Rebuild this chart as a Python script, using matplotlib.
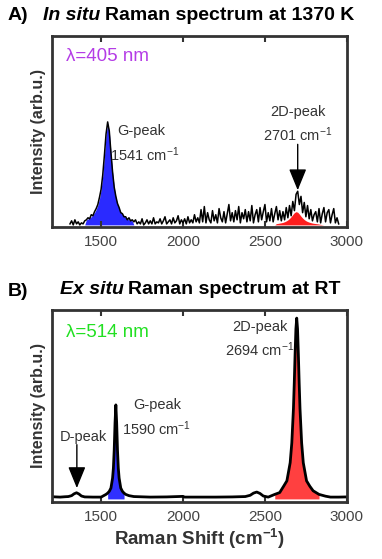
import matplotlib
matplotlib.use('Agg')
import matplotlib.pyplot as plt
import numpy as np

plt.rcParams['font.family'] = ['Liberation Sans', 'DejaVu Sans']
plt.rcParams['mathtext.fontset'] = 'custom'
plt.rcParams['mathtext.rm'] = 'Liberation Sans'
plt.rcParams['mathtext.it'] = 'Liberation Sans:italic'
plt.rcParams['mathtext.bf'] = 'Liberation Sans:bold'

# ---- panel A: in situ spectrum (405 nm), normalised to G peak
a_x = np.arange(1310, 2951, 10)
a_y = [0.01, 0.04, 0.00, 0.05, 0.01, 0.03, 0.00, 0.02, 0.01, 0.04,
       0.05, 0.07, 0.06, 0.10, 0.09, 0.13, 0.16, 0.20, 0.27, 0.35,
       0.49, 0.68, 0.89, 1.01, 0.92, 0.71, 0.52, 0.37, 0.28, 0.21,
       0.17, 0.12, 0.11, 0.08, 0.08, 0.05, 0.07, 0.04, 0.05, 0.03,
       0.05, 0.01, 0.03, 0.01, 0.06, 0.00, 0.02, 0.05, 0.01, 0.04,
       0.01, 0.07, 0.01, 0.03, 0.02, 0.06, 0.01, 0.04, 0.08, 0.01,
       0.03, 0.05, 0.01, 0.07, 0.02, 0.04, 0.09, 0.01, 0.05, 0.02,
       0.06, 0.01, 0.08, 0.02, 0.05, 0.02, 0.10, 0.03, 0.07, 0.02,
       0.15, 0.03, 0.18, 0.02, 0.12, 0.05, 0.02, 0.14, 0.04, 0.10,
       0.02, 0.16, 0.07, 0.03, 0.13, 0.02, 0.11, 0.20, 0.04, 0.12,
       0.03, 0.14, 0.05, 0.18, 0.02, 0.12, 0.06, 0.15, 0.03, 0.13,
       0.04, 0.19, 0.02, 0.10, 0.15, 0.03, 0.17, 0.05, 0.13, 0.20,
       0.03, 0.12, 0.04, 0.16, 0.03, 0.11, 0.18, 0.05, 0.14, 0.04,
       0.13, 0.05, 0.17, 0.07, 0.19, 0.09, 0.23, 0.14, 0.30, 0.33,
       0.20, 0.28, 0.12, 0.22, 0.08, 0.19, 0.06, 0.15, 0.04, 0.10,
       0.13, 0.03, 0.16, 0.02, 0.11, 0.17, 0.03, 0.12, 0.15, 0.02,
       0.10, 0.16, 0.02, 0.07, 0.01]

# fitted G peak (blue) and 2D peak (red) of panel A
a_g_x = np.arange(1400, 1701, 10)
a_g_y = [0.00, 0.050, 0.058, 0.068, 0.081, 0.098, 0.121, 0.152, 0.195, 0.257,
         0.349, 0.483, 0.671, 0.882, 0.999, 0.917, 0.714, 0.517, 0.372, 0.273,
         0.205, 0.159, 0.126, 0.102, 0.084, 0.070, 0.060, 0.051, 0.044, 0.039,
         0.00]
a_2d_x = np.arange(2560, 2861, 10)
a_2d_y = [0.00, 0.013, 0.015, 0.018, 0.021, 0.025, 0.031, 0.039, 0.049, 0.063,
          0.081, 0.102, 0.121, 0.130, 0.124, 0.106, 0.085, 0.067, 0.052, 0.041,
          0.033, 0.027, 0.022, 0.018, 0.015, 0.013, 0.011, 0.008, 0.005, 0.002,
          0.00]

# ---- panel B: ex situ spectrum (514 nm), normalised to 2D peak
b_x = [1200, 1250, 1280, 1300, 1320, 1335, 1350, 1365, 1380, 1400, 1450, 1500,
       1530, 1540, 1550, 1560, 1570, 1575, 1580, 1585, 1590, 1595, 1600, 1605,
       1610, 1620, 1630, 1640, 1650, 1670, 1700, 1800, 1900, 2000, 2010, 2100,
       2200, 2300, 2380, 2410, 2430, 2450, 2470, 2490, 2520, 2560, 2590, 2614,
       2634, 2654, 2664, 2674, 2679, 2684, 2689, 2694, 2699, 2704, 2709, 2714,
       2724, 2734, 2754, 2774, 2794, 2830, 2870, 2900, 2950, 3000]
b_y = [0.012, 0.010, 0.012, 0.013, 0.018, 0.028, 0.034, 0.027, 0.016, 0.011, 0.010, 0.010,
       0.025, 0.032, 0.042, 0.060, 0.115, 0.17, 0.27, 0.42, 0.52, 0.42, 0.27, 0.17,
       0.115, 0.060, 0.042, 0.032, 0.025, 0.018, 0.013, 0.010, 0.011, 0.014, 0.010, 0.010,
       0.010, 0.011, 0.013, 0.020, 0.032, 0.038, 0.030, 0.016, 0.010, 0.025, 0.035, 0.07,
       0.10, 0.20, 0.31, 0.50, 0.64, 0.80, 0.94, 1.00, 0.94, 0.80, 0.64, 0.50,
       0.31, 0.20, 0.10, 0.07, 0.045, 0.025, 0.015, 0.010, 0.010, 0.011]
b_g_range = (1540, 1640)
b_2d_range = (2560, 2830)

fig = plt.figure(figsize=(3.82, 5.59), dpi=100)
ax1 = fig.add_axes([0.136, 0.594, 0.772, 0.3417])
ax2 = fig.add_axes([0.136, 0.102, 0.772, 0.3435])

for ax in (ax1, ax2):
    ax.set_xlim(1200, 3000)
    ax.set_xticks([1500, 2000, 2500, 3000])
    ax.set_yticks([])
    ax.tick_params(axis='x', direction='in', top=True, length=4, width=1.5,
                   pad=6, labelsize=11, labelcolor='#444444', color='#333333')
    for s in ax.spines.values():
        s.set_linewidth(2)
        s.set_color('#333333')
    ax.set_ylabel('Intensity (arb.u.)', fontsize=11.5, fontweight='bold',
                  color='#333333', labelpad=4)

# panel A
ax1.set_ylim(-0.02, 1.853)
ax1.fill_between(a_g_x, 0, a_g_y, color='#2a2aff', lw=0)
ax1.fill_between(a_2d_x, 0, a_2d_y, color='#ff1e1e', lw=0)
ax1.plot(a_x, a_y, color='black', lw=1.1)
ax1.text(1285, 1.647, 'λ=405 nm', color='#b43ce6', fontsize=13.5, va='center')
ax1.text(1596, 0.921, 'G-peak', fontsize=10.5, color='#333333', va='center')
ax1.text(1554, 0.686, r'1541 cm$^{-1}$', fontsize=10.5, color='#333333', va='center')
ax1.text(2700, 1.108, '2D-peak', fontsize=10.5, color='#333333', va='center', ha='center')
ax1.text(2700, 0.882, r'2701 cm$^{-1}$', fontsize=10.5, color='#333333', va='center', ha='center')
ax1.annotate('', xy=(2700, 0.34), xytext=(2700, 0.79),
             arrowprops=dict(arrowstyle='-|>,head_length=1.1,head_width=0.45',
                             mutation_scale=12, color='black', lw=1,
                             shrinkA=0, shrinkB=0))

# panel B
ax2.set_ylim(-0.017, 1.045)
bx = np.array(b_x)
by = np.array(b_y)
m = (bx >= b_g_range[0]) & (bx <= b_g_range[1])
ax2.fill_between(bx[m], 0, by[m], color='#3030ff', lw=0)
m = (bx >= b_2d_range[0]) & (bx <= b_2d_range[1])
ax2.fill_between(bx[m], 0, by[m], color='#ff4040', lw=0)
ax2.plot(bx, by, color='black', lw=2)
ax2.text(1285, 0.92, 'λ=514 nm', color='#22e022', fontsize=13.5, va='center')
ax2.text(2468, 0.951, '2D-peak', fontsize=10.5, color='#333333', va='center', ha='center')
ax2.text(2468, 0.824, r'2694 cm$^{-1}$', fontsize=10.5, color='#333333', va='center', ha='center')
ax2.text(1840, 0.519, 'G-peak', fontsize=10.5, color='#333333', va='center', ha='center')
ax2.text(1840, 0.387, r'1590 cm$^{-1}$', fontsize=10.5, color='#333333', va='center', ha='center')
ax2.text(1389, 0.343, 'D-peak', fontsize=10.5, color='#333333', va='center', ha='center')
ax2.annotate('', xy=(1352, 0.06), xytext=(1352, 0.30),
             arrowprops=dict(arrowstyle='-|>,head_length=1.1,head_width=0.45',
                             mutation_scale=12, color='black', lw=1,
                             shrinkA=0, shrinkB=0))
ax2.set_xlabel(r'Raman Shift (cm$^{\mathbf{-1}}$)', fontsize=13.5,
               fontweight='bold', color='#333333', labelpad=2)

# panel titles
fig.text(8 / 382, 1 - 15 / 559, 'A)', fontsize=14, fontweight='bold', va='center')
fig.text(43 / 382, 1 - 15 / 559, 'In situ', fontsize=14, fontweight='bold',
         style='italic', va='center')
fig.text(105 / 382, 1 - 15 / 559, 'Raman spectrum at 1370 K', fontsize=14,
         fontweight='bold', va='center')
fig.text(8 / 382, 1 - 292 / 559, 'B)', fontsize=14, fontweight='bold', va='center')
fig.text(60 / 382, 1 - 290 / 559, 'Ex situ', fontsize=14, fontweight='bold',
         style='italic', va='center')
fig.text(128 / 382, 1 - 290 / 559, 'Raman spectrum at RT', fontsize=14,
         fontweight='bold', va='center')

fig.savefig('out.png', dpi=100)
